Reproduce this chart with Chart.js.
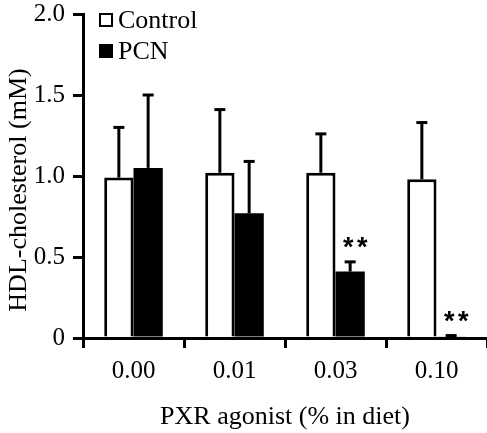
<!DOCTYPE html>
<html>
<head>
<meta charset="utf-8">
<script src="https://cdn.jsdelivr.net/npm/chart.js@4.4.1/dist/chart.umd.min.js"></script>
<style>
  html, body { margin: 0; padding: 0; background: #fff; }
  #wrap { width: 487px; height: 433px; }
</style>
</head>
<body>
<div id="wrap"><canvas id="c" width="487" height="433"></canvas></div>
<script>
const categories = ['0.00', '0.01', '0.03', '0.10'];
const controlValues = [0.99, 1.02, 1.02, 0.98];
const controlErrors = [0.31, 0.39, 0.24, 0.35];
const pcnValues = [1.05, 0.77, 0.41, 0.01];
const pcnErrors = [0.45, 0.32, 0.06, 0.005];
const pcnSignificance = ['', '', '**', '**'];
const yTicks = [0, 0.5, 1.0, 1.5, 2.0];
const xTitle = 'PXR agonist (% in diet)';
const yTitle = 'HDL-cholesterol (mM)';

const FONT = '"Liberation Serif", "Times New Roman", serif';

const bgPlugin = {
  id: 'bg',
  beforeDraw(chart) {
    const ctx = chart.ctx;
    ctx.save();
    ctx.fillStyle = '#fff';
    ctx.fillRect(0, 0, chart.width, chart.height);
    ctx.restore();
  }
};

const errorPlugin = {
  id: 'errorbars',
  afterDatasetsDraw(chart) {
    const ctx = chart.ctx;
    const yScale = chart.scales.y;
    chart.data.datasets.forEach((ds, di) => {
      const meta = chart.getDatasetMeta(di);
      meta.data.forEach((el, i) => {
        const v = ds.data[i];
        const e = ds.errors[i];
        const yTop = yScale.getPixelForValue(v + e);
        ctx.save();
        ctx.strokeStyle = '#000';
        ctx.lineWidth = 3;
        ctx.beginPath();
        ctx.moveTo(el.x, el.y);
        ctx.lineTo(el.x, yTop);
        ctx.stroke();
        ctx.beginPath();
        ctx.moveTo(el.x - 5.5, yTop);
        ctx.lineTo(el.x + 5.5, yTop);
        ctx.stroke();
        if (ds.sig && ds.sig[i]) {
          ctx.fillStyle = '#000';
          ctx.font = 'bold 27px "Liberation Sans", Arial, sans-serif';
          ctx.textAlign = 'center';
          ctx.textBaseline = 'alphabetic';
          const chars = ds.sig[i].split('');
          const step = 14;
          const cx = el.x + 5 - (chars.length - 1) * step / 2;
          chars.forEach((ch, k) => ctx.fillText(ch, cx + k * step, yTop - 6));
        }
        ctx.restore();
      });
    });
  }
};

const legendPlugin = {
  id: 'customLegend',
  afterDraw(chart) {
    const ctx = chart.ctx;
    ctx.save();
    const x0 = 99, y0 = 13, gap = 31, sz = 14;
    chart.data.datasets.forEach((ds, i) => {
      const y = y0 + i * gap;
      ctx.fillStyle = ds.backgroundColor;
      ctx.fillRect(x0, y, sz, sz);
      ctx.strokeStyle = '#000';
      ctx.lineWidth = 2;
      ctx.strokeRect(x0 + 1, y + 1, sz - 2, sz - 2);
      ctx.fillStyle = '#000';
      ctx.font = '26px ' + FONT;
      ctx.textAlign = 'left';
      ctx.textBaseline = 'middle';
      ctx.fillText(ds.label, x0 + sz + 5, y + sz / 2 + 1);
    });
    ctx.restore();
  }
};

const yTitlePlugin = {
  id: 'yTitle',
  afterDraw(chart) {
    const ctx = chart.ctx;
    ctx.save();
    ctx.translate(19, 190);
    ctx.rotate(-Math.PI / 2);
    ctx.fillStyle = '#000';
    ctx.font = '26px ' + FONT;
    ctx.textAlign = 'center';
    ctx.textBaseline = 'middle';
    ctx.fillText(yTitle, 0, 0);
    ctx.restore();
  }
};

new Chart(document.getElementById('c'), {
  type: 'bar',
  data: {
    labels: categories,
    datasets: [
      {
        label: 'Control',
        data: controlValues,
        errors: controlErrors,
        backgroundColor: '#ffffff',
        borderColor: '#000000',
        borderWidth: 3,
        borderSkipped: 'bottom'
      },
      {
        label: 'PCN',
        data: pcnValues,
        errors: pcnErrors,
        sig: pcnSignificance,
        backgroundColor: '#000000',
        borderColor: '#000000',
        borderWidth: 0
      }
    ]
  },
  plugins: [bgPlugin, errorPlugin, legendPlugin, yTitlePlugin],
  options: {
    responsive: false,
    devicePixelRatio: 1,
    animation: false,
    categoryPercentage: 0.58,
    barPercentage: 1.0,
    layout: { padding: { top: 14, right: 0, left: 0, bottom: 0 } },
    plugins: { legend: { display: false }, tooltip: { enabled: false } },
    scales: {
      x: {
        type: 'category',
        offset: true,
        grid: { display: true, drawOnChartArea: false, drawTicks: true, tickLength: 10, offset: true, color: '#000', lineWidth: 3 },
        border: { display: true, color: '#000', width: 3 },
        ticks: { color: '#000', font: { family: FONT, size: 25 }, padding: 8 },
        title: { display: true, text: xTitle, color: '#000', font: { family: FONT, size: 26 }, padding: { top: 12, bottom: 0 } },
        afterFit(scale) { scale.height = 95; scale.paddingLeft = 0; scale.paddingRight = 0; }
      },
      y: {
        min: 0,
        max: 2,
        afterBuildTicks(scale) { scale.ticks = yTicks.map(v => ({ value: v })); },
        grid: { display: true, drawOnChartArea: false, drawTicks: true, tickLength: 10, color: '#000', lineWidth: 3 },
        border: { display: true, color: '#000', width: 3 },
        ticks: { color: '#000', font: { family: FONT, size: 25 }, padding: 8,
          callback: (v) => v === 0 ? '0' : Number(v).toFixed(1) },
        title: { display: false },
        afterFit(scale) { scale.width = 83; scale.paddingTop = 0; scale.paddingBottom = 0; }
      }
    }
  }
});
</script>
</body>
</html>
